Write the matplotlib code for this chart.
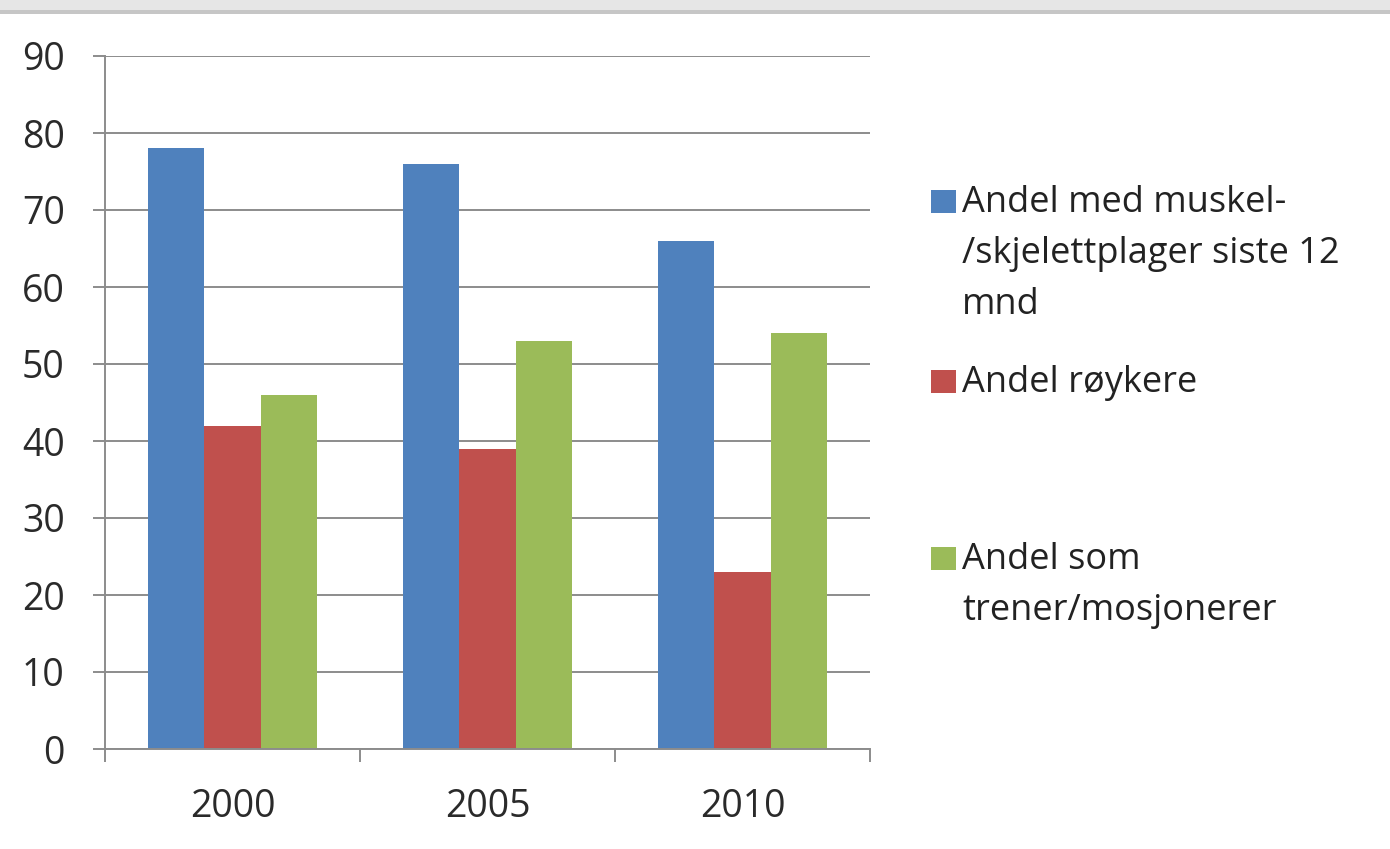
import matplotlib
matplotlib.use("Agg")
import matplotlib.pyplot as plt
from matplotlib.patches import Rectangle
import numpy as np

plt.rcParams['font.family'] = ['Open Sans', 'DejaVu Sans']

years = ['2000', '2005', '2010']
muskel = [78, 76, 66]
royk = [42, 39, 23]
trener = [46, 53, 54]
series_labels = ['Andel med muskel-\n/skjelettplager siste 12\nmnd',
                 'Andel røykere',
                 'Andel som\ntrener/mosjonerer']
colors = ['#4F81BD', '#C0504D', '#9BBB59']
yticks = [0, 10, 20, 30, 40, 50, 60, 70, 80, 90]

fig = plt.figure(figsize=(13.9, 8.49), dpi=100)
W, H = 1390, 849

# grey frame strip along the top
fig.add_artist(Rectangle((0, 1 - 10 / H), 1, 10 / H, transform=fig.transFigure,
                         facecolor='#e6e6e6', edgecolor='none'))
fig.add_artist(Rectangle((0, 1 - 14 / H), 1, 4 / H, transform=fig.transFigure,
                         facecolor='#c6c6c6', edgecolor='none'))

ax = fig.add_axes([105 / W, (H - 749) / H, (870 - 105) / W, (749 - 56) / H])

x = np.arange(len(years))
w = 0.22
for i, vals in enumerate([muskel, royk, trener]):
    ax.bar(x + (i - 1) * w, vals, width=w, color=colors[i], zorder=2)

ax.set_xlim(-0.5, 2.5)
ax.set_ylim(0, 90)
ax.set_yticks(yticks)
ax.set_xticks(x)
ax.set_xticklabels(years)
ax.set_xticks(np.arange(-0.5, 3.0, 1.0), minor=True)

grid_c = '#8c8c8c'
ax.yaxis.grid(True, color=grid_c, linewidth=1.4, zorder=0)
ax.set_axisbelow(True)
for s in ['top', 'right']:
    ax.spines[s].set_visible(False)
for s in ['left', 'bottom']:
    ax.spines[s].set_color(grid_c)
    ax.spines[s].set_linewidth(1.4)

ax.tick_params(axis='y', length=9, width=1.4, color=grid_c, pad=20,
               labelsize=27, labelcolor='#2a2a2a')
ax.tick_params(axis='x', which='major', length=0, pad=28,
               labelsize=27, labelcolor='#2a2a2a')
ax.tick_params(axis='x', which='minor', length=9, width=1.4, color=grid_c)

# legend, markers aligned with the first line of each label
leg_y = [190, 370, 547]
for lab, c, yt in zip(series_labels, colors, leg_y):
    fig.add_artist(Rectangle((931 / W, 1 - (yt + 23) / H), 25 / W, 23 / H,
                             transform=fig.transFigure, facecolor=c,
                             edgecolor='none'))
    fig.text(962 / W, 1 - (yt - 5) / H, lab, fontsize=26, color='#222222',
             va='top', ha='left', linespacing=1.55)

fig.savefig('out.png', dpi=100)
